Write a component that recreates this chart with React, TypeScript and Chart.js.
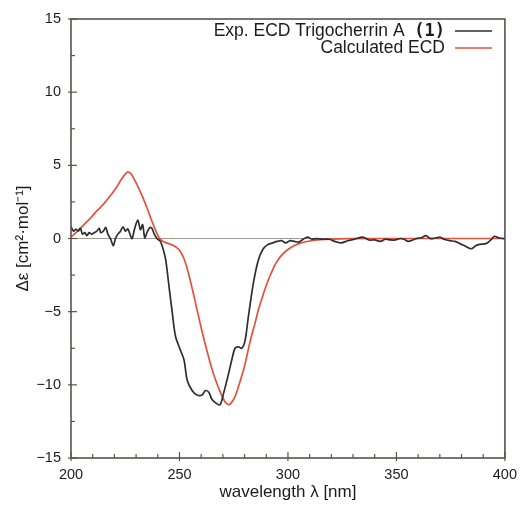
import React, { useEffect, useRef } from "react";
import { Chart, registerables } from "chart.js";

Chart.register(...registerables);

const expX = [200, 201.2, 202.3, 203.3, 204.3, 205.3, 206.4, 207.3, 208.4, 209.5, 210.7, 211.9, 213, 213.7, 214.9, 216, 217, 218.3, 219.5, 220.5, 221.6, 222.8, 224, 225.1, 226.2, 227.4, 228.2, 229.2, 230.8, 232, 233, 234, 235, 236.3, 237.3, 238.4, 239.6, 241.2, 242.7, 243.7, 245.2, 246.7, 248.2, 250.5, 252.1, 253.6, 255.9, 258.1, 260.4, 261.9, 263.5, 265, 267.3, 268.8, 270.3, 272.6, 274.1, 275.6, 277.2, 278.7, 280.2, 281.7, 284, 286.3, 288.6, 290.9, 293, 295, 297, 299, 301, 303, 305, 307, 309, 311, 313, 316, 319, 321.6, 324.6, 327.6, 330.7, 334.5, 337.3, 340, 342.6, 345, 347.2, 349.5, 351.8, 353.5, 355.5, 357.5, 359.4, 361.5, 363.6, 365.5, 367, 368.5, 370, 372, 374.6, 377, 379.2, 381.5, 384.5, 386.5, 388.3, 391.3, 393.5, 395.2, 397, 399, 400];
const expY = [0.8, 0.5, 0.65, 0.5, 0.7, 0.3, 0.4, 0.2, 0.4, 0.3, 0.4, 0.5, 0.7, 0.4, 0.5, 0.75, 0.3, -0.05, -0.5, 0, 0.3, 0.5, 0.8, 0.5, 0.65, 0.2, 0, 0.6, 1.25, 0.6, 0.95, 0.05, 0.4, 0.75, 0.7, 0.3, 0, -0.2, -0.85, -1.5, -3.3, -5.1, -6.7, -7.65, -8.3, -9.7, -10.4, -10.7, -10.7, -10.4, -10.5, -11.0, -11.3, -11.35, -10.6, -9.25, -8.3, -7.5, -7.4, -7.5, -7.0, -5.4, -3.1, -1.5, -0.7, -0.4, -0.3, -0.2, -0.15, -0.3, -0.15, -0.2, -0.25, -0.05, 0.1, -0.05, 0, -0.05, -0.05, -0.2, -0.3, -0.15, -0.05, 0.1, -0.1, -0.1, -0.2, -0.05, -0.1, -0.1, 0, -0.05, -0.2, -0.1, 0, 0.05, 0.2, 0, 0, 0.05, 0.1, -0.05, -0.15, -0.2, -0.35, -0.5, -0.7, -0.5, -0.4, -0.35, -0.1, 0.15, 0.05, 0, 0];

const calcX = [200, 203, 206, 209, 212, 215, 218, 221, 223, 225, 226.2, 227.5, 229.5, 231, 233, 235, 237, 239, 240.6, 242, 244, 246, 248, 250, 252, 254, 256, 258, 260, 262, 264, 266, 268, 270, 271.5, 272.8, 274, 275.6, 277, 278.7, 280.2, 281.7, 283.3, 284.8, 286.3, 287.8, 289.3, 290.9, 292.5, 294, 297, 300, 303, 306, 310, 315, 320, 330, 340, 400];
const calcY = [0.1, 0.5, 0.95, 1.4, 1.9, 2.35, 2.9, 3.5, 4.0, 4.4, 4.55, 4.45, 3.95, 3.5, 2.85, 2.1, 1.3, 0.55, 0.05, -0.15, -0.3, -0.4, -0.55, -0.8, -1.35, -2.3, -3.5, -4.8, -6.1, -7.3, -8.4, -9.4, -10.2, -10.9, -11.25, -11.35, -11.2, -10.8, -10.2, -9.4, -8.6, -7.6, -6.6, -5.8, -4.9, -4.2, -3.5, -2.85, -2.3, -1.8, -1.15, -0.75, -0.48, -0.3, -0.17, -0.08, -0.04, -0.01, 0, 0];

const xTicks = [200, 250, 300, 350, 400];
const yTicks = [-15, -10, -5, 0, 5, 10, 15];
const xMinorStep = 10;
const yMinorStep = 2.5;

const seriesLabels = ["Exp. ECD Trigocherrin A", "Calculated ECD"];
const compoundLabel = "(1)";
const xTitle = "wavelength λ [nm]";
const yTitle = "Δε [cm²·mol⁻¹]";

const FONT = "'Liberation Sans', Arial, Helvetica, sans-serif";
const AXIS_COLOR = "#5a5250";
const EXP_COLOR = "#2e2e2e";
const CALC_COLOR = "#e5513d";
const TEXT_COLOR = "#1c1c1c";

const framePlugin = {
  id: "frame",
  beforeDatasetsDraw(chart: any) {
    const { ctx, chartArea: a, scales } = chart;
    const y0 = scales.y.getPixelForValue(0);
    ctx.save();
    ctx.strokeStyle = "#a39590";
    ctx.lineWidth = 1;
    ctx.beginPath();
    ctx.moveTo(a.left, y0);
    ctx.lineTo(a.right, y0);
    ctx.stroke();
    ctx.restore();
  },
  afterDatasetsDraw(chart: any) {
    const { ctx, chartArea: a, scales } = chart;
    ctx.save();
    ctx.strokeStyle = AXIS_COLOR;
    ctx.lineWidth = 1.6;
    ctx.strokeRect(a.left, a.top, a.right - a.left, a.bottom - a.top);
    ctx.lineWidth = 1.2;
    const xs = scales.x;
    for (let v = xs.min; v <= xs.max + 1e-6; v += xMinorStep) {
      const px = xs.getPixelForValue(v);
      const major = xTicks.includes(Math.round(v));
      ctx.beginPath();
      ctx.moveTo(px, a.bottom + (major ? 3 : 0));
      ctx.lineTo(px, a.bottom - (major ? 6 : 4));
      ctx.stroke();
    }
    const ys = scales.y;
    for (let v = ys.min; v <= ys.max + 1e-6; v += yMinorStep) {
      const py = ys.getPixelForValue(v);
      const major = yTicks.includes(v);
      ctx.beginPath();
      ctx.moveTo(a.left - (major ? 3 : 0), py);
      ctx.lineTo(a.left + (major ? 6 : 4), py);
      ctx.stroke();
    }
    // legend
    const xr = 445;
    const rows = [31, 48];
    const colors = [EXP_COLOR, CALC_COLOR];
    ctx.textBaseline = "middle";
    ctx.textAlign = "right";
    ctx.fillStyle = TEXT_COLOR;
    ctx.font = `bold 17px 'DejaVu Sans Mono', monospace`;
    const w = ctx.measureText(compoundLabel).width;
    ctx.fillText(compoundLabel, xr, rows[0] + 1);
    ctx.font = `17.5px ${FONT}`;
    ctx.fillText(seriesLabels[0] + "  ", xr - w, rows[0]);
    ctx.fillText(seriesLabels[1], xr, rows[1]);
    for (let i = 0; i < 2; i++) {
      ctx.strokeStyle = colors[i];
      ctx.lineWidth = 1.5;
      ctx.beginPath();
      ctx.moveTo(455, rows[i]);
      ctx.lineTo(492, rows[i]);
      ctx.stroke();
    }
    ctx.restore();
  },
};

export default function App() {
  const ref = useRef<HTMLCanvasElement | null>(null);
  useEffect(() => {
    document.body.style.margin = "0";
    const chart = new Chart(ref.current as HTMLCanvasElement, {
      type: "line",
      data: {
        datasets: [
          {
            label: seriesLabels[0],
            data: expX.map((x, i) => ({ x, y: expY[i] })),
            borderColor: EXP_COLOR,
            borderWidth: 1.7,
            pointRadius: 0,
            tension: 0.3,
          },
          {
            label: seriesLabels[1],
            data: calcX.map((x, i) => ({ x, y: calcY[i] })),
            borderColor: CALC_COLOR,
            borderWidth: 1.7,
            pointRadius: 0,
            cubicInterpolationMode: "monotone",
          },
        ],
      },
      options: {
        animation: false,
        responsive: false,
        events: [],
        layout: { padding: { left: 0, right: 16, top: 19, bottom: 0 } },
        plugins: { legend: { display: false }, tooltip: { enabled: false } },
        scales: {
          x: {
            type: "linear",
            min: 200,
            max: 400,
            afterBuildTicks: (s: any) => {
              s.ticks = xTicks.map((v) => ({ value: v }));
            },
            afterFit: (s: any) => {
              s.height = 48;
            },
            grid: { display: false, drawTicks: false },
            border: { display: false },
            ticks: {
              padding: 8,
              color: TEXT_COLOR,
              font: { family: FONT, size: 14.5 },
              maxRotation: 0,
            },
            title: {
              display: true,
              text: xTitle,
              color: TEXT_COLOR,
              font: { family: FONT, size: 17 },
              padding: { top: 0, bottom: 3 },
            },
          },
          y: {
            type: "linear",
            min: -15,
            max: 15,
            afterBuildTicks: (s: any) => {
              s.ticks = yTicks.map((v) => ({ value: v }));
            },
            afterFit: (s: any) => {
              s.width = 71;
            },
            grid: { display: false, drawTicks: false },
            border: { display: false },
            ticks: {
              padding: 10,
              color: TEXT_COLOR,
              font: { family: FONT, size: 14.5 },
              callback: (v: any) => String(v).replace("-", "\u2212"),
            },
            title: {
              display: true,
              text: yTitle,
              color: TEXT_COLOR,
              font: { family: FONT, size: 17 },
              padding: { top: 13, bottom: 0 },
            },
          },
        },
      },
      plugins: [framePlugin],
    } as any);
    return () => chart.destroy();
  }, []);
  return (
    <div style={{ width: 525, height: 506 }}>
      <canvas ref={ref} width={525} height={506} />
    </div>
  );
}
